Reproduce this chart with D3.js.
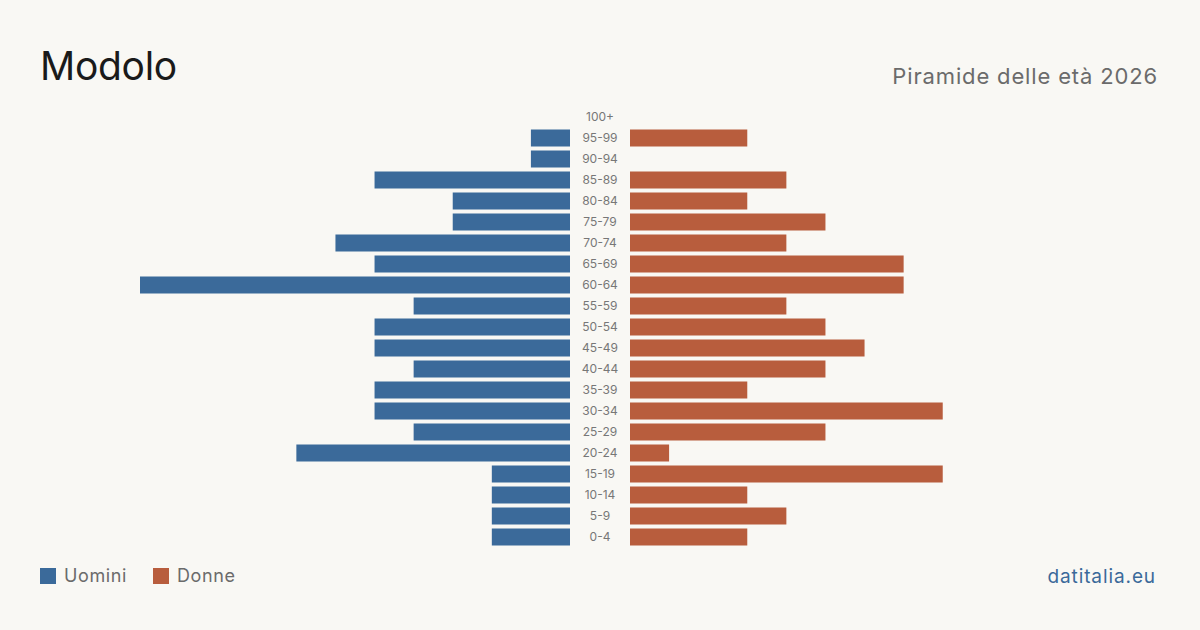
<!DOCTYPE html>
<html>
<head>
<meta charset="utf-8">
<script src="https://cdn.jsdelivr.net/npm/d3@7"></script>
<style>
  html, body { margin: 0; padding: 0; background: #f9f8f4; }
  svg { display: block; font-family: Inter, "Noto Sans", sans-serif; }
  .age-label { fill: #777; font-size: 12px; }
</style>
</head>
<body>
<svg id="chart" width="1200" height="630"></svg>
<script>
const ageGroups = ['100+', '95-99', '90-94', '85-89', '80-84', '75-79', '70-74', '65-69', '60-64', '55-59',
  '50-54', '45-49', '40-44', '35-39', '30-34', '25-29', '20-24', '15-19', '10-14', '5-9', '0-4'];
const men =   [0, 1, 1, 5, 3, 3, 6, 5, 11, 4, 5, 5, 4, 5, 5, 4, 7, 2, 2, 2, 2];
const women = [0, 3, 0, 4, 3, 5, 4, 7, 7, 4, 5, 6, 5, 3, 8, 5, 1, 8, 3, 4, 3];
const legendItems = ['Uomini', 'Donne'];

const blue = '#3b6a9a';
const orange = '#b85d3d';

const svg = d3.select('#chart');
svg.append('rect').attr('width', 1200).attr('height', 630).attr('fill', '#f9f8f4');

// Titles
svg.append('text')
  .attr('x', 40).attr('y', 80)
  .attr('font-size', 39)
  .attr('fill', '#1a1a1a')
  .attr('letter-spacing', -0.3)
  .text('Modolo');

svg.append('text')
  .attr('x', 1158).attr('y', 84)
  .attr('text-anchor', 'end')
  .attr('font-size', 22)
  .attr('letter-spacing', 0.85)
  .attr('fill', '#6b6b6b')
  .text('Piramide delle età 2026');

// Scales
const y = d3.scaleBand()
  .domain(ageGroups)
  .range([106.5, 547.5])
  .paddingInner(4 / 21)
  .paddingOuter(2 / 21);

const xMen = d3.scaleLinear().domain([0, 11]).range([570, 140]);
const xWomen = d3.scaleLinear().domain([0, 11]).range([630, 1060]);

const g = svg.append('g');

g.selectAll('.men')
  .data(ageGroups.map((a, i) => ({ age: a, v: men[i] })).filter(d => d.v > 0))
  .enter().append('rect')
  .attr('class', 'men')
  .attr('x', d => xMen(d.v))
  .attr('y', d => y(d.age))
  .attr('width', d => xMen(0) - xMen(d.v))
  .attr('height', y.bandwidth())
  .attr('fill', blue);

g.selectAll('.women')
  .data(ageGroups.map((a, i) => ({ age: a, v: women[i] })).filter(d => d.v > 0))
  .enter().append('rect')
  .attr('class', 'women')
  .attr('x', xWomen(0))
  .attr('y', d => y(d.age))
  .attr('width', d => xWomen(d.v) - xWomen(0))
  .attr('height', y.bandwidth())
  .attr('fill', orange);

g.selectAll('.age-label')
  .data(ageGroups)
  .enter().append('text')
  .attr('class', 'age-label')
  .attr('x', 600)
  .attr('y', d => y(d) + y.bandwidth() / 2)
  .attr('dy', '0.35em')
  .attr('text-anchor', 'middle')
  .text(d => d);

// Legend
const legend = svg.append('g').attr('transform', 'translate(40,568)');
const legendX = [0, 113];
legendItems.forEach((name, i) => {
  const item = legend.append('g').attr('transform', `translate(${legendX[i]},0)`);
  item.append('rect').attr('width', 16).attr('height', 16).attr('fill', i === 0 ? blue : orange);
  item.append('text')
    .attr('x', 24).attr('y', 8)
    .attr('dy', '0.35em')
    .attr('font-size', 18)
    .attr('letter-spacing', 0.6)
    .attr('fill', '#6b6b6b')
    .text(name);
});

svg.append('text')
  .attr('x', 1156).attr('y', 583)
  .attr('text-anchor', 'end')
  .attr('font-size', 19)
  .attr('letter-spacing', 0.9)
  .attr('fill', '#3b6a9a')
  .text('datitalia.eu');
</script>
</body>
</html>
